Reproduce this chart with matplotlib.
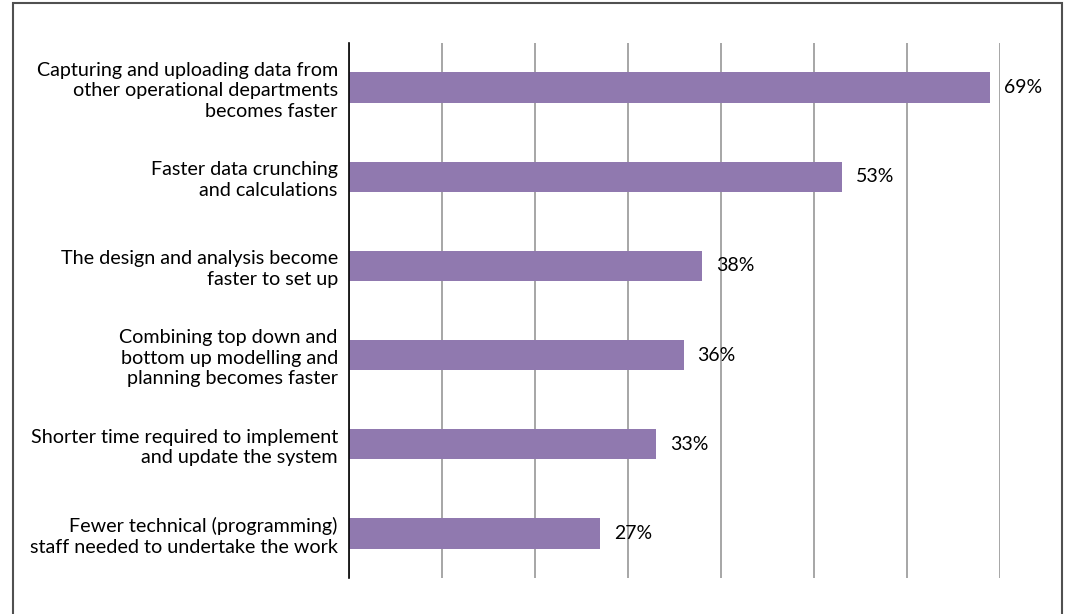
import matplotlib.pyplot as plt
from matplotlib.patches import Rectangle

categories = [
    "Capturing and uploading data from\nother operational departments\nbecomes faster",
    "Faster data crunching\nand calculations",
    "The design and analysis become\nfaster to set up",
    "Combining top down and\nbottom up modelling and\nplanning becomes faster",
    "Shorter time required to implement\nand update the system",
    "Fewer technical (programming)\nstaff needed to undertake the work",
]
values = [69, 53, 38, 36, 33, 27]
grid_ticks = [0, 10, 20, 30, 40, 50, 60, 70]

plt.rcParams["font.family"] = ["Lato", "DejaVu Sans"]

fig = plt.figure(figsize=(10.67, 6.14), dpi=100)
ax = fig.add_axes([0.327, 0.0586, 0.610, 0.8714])

ypos = list(range(len(categories)))
ax.barh(ypos, values, height=0.34, color="#9079AF", zorder=3)

for y, v in zip(ypos, values):
    ax.annotate(f"{v}%", (v, y), xytext=(10, 0), textcoords="offset points",
                va="center", ha="left", fontsize=14, color="black",
                annotation_clip=False, zorder=4)

ax.set_xlim(0, 70)
ax.set_ylim(len(categories) - 0.5, -0.5)
ax.set_xticks(grid_ticks)
ax.set_xticklabels([])
ax.tick_params(axis="x", length=0)
ax.set_yticks(ypos)
ax.set_yticklabels(categories, fontsize=14.2, linespacing=1.25)
ax.tick_params(axis="y", length=0, pad=8)
ax.grid(axis="x", color="#A6A6A6", linewidth=1.4, zorder=1)

for side in ["top", "right", "bottom"]:
    ax.spines[side].set_visible(False)
ax.spines["left"].set_color("black")
ax.spines["left"].set_linewidth(1.2)
ax.spines["left"].set_zorder(5)

# outer frame around the chart area
fig.patches.append(Rectangle((13 / 1067, -0.05), 1049 / 1067, 1.05 - 3 / 614,
                             transform=fig.transFigure, fill=False,
                             edgecolor="#505050", linewidth=1.5))

fig.savefig("out.png", dpi=100)
